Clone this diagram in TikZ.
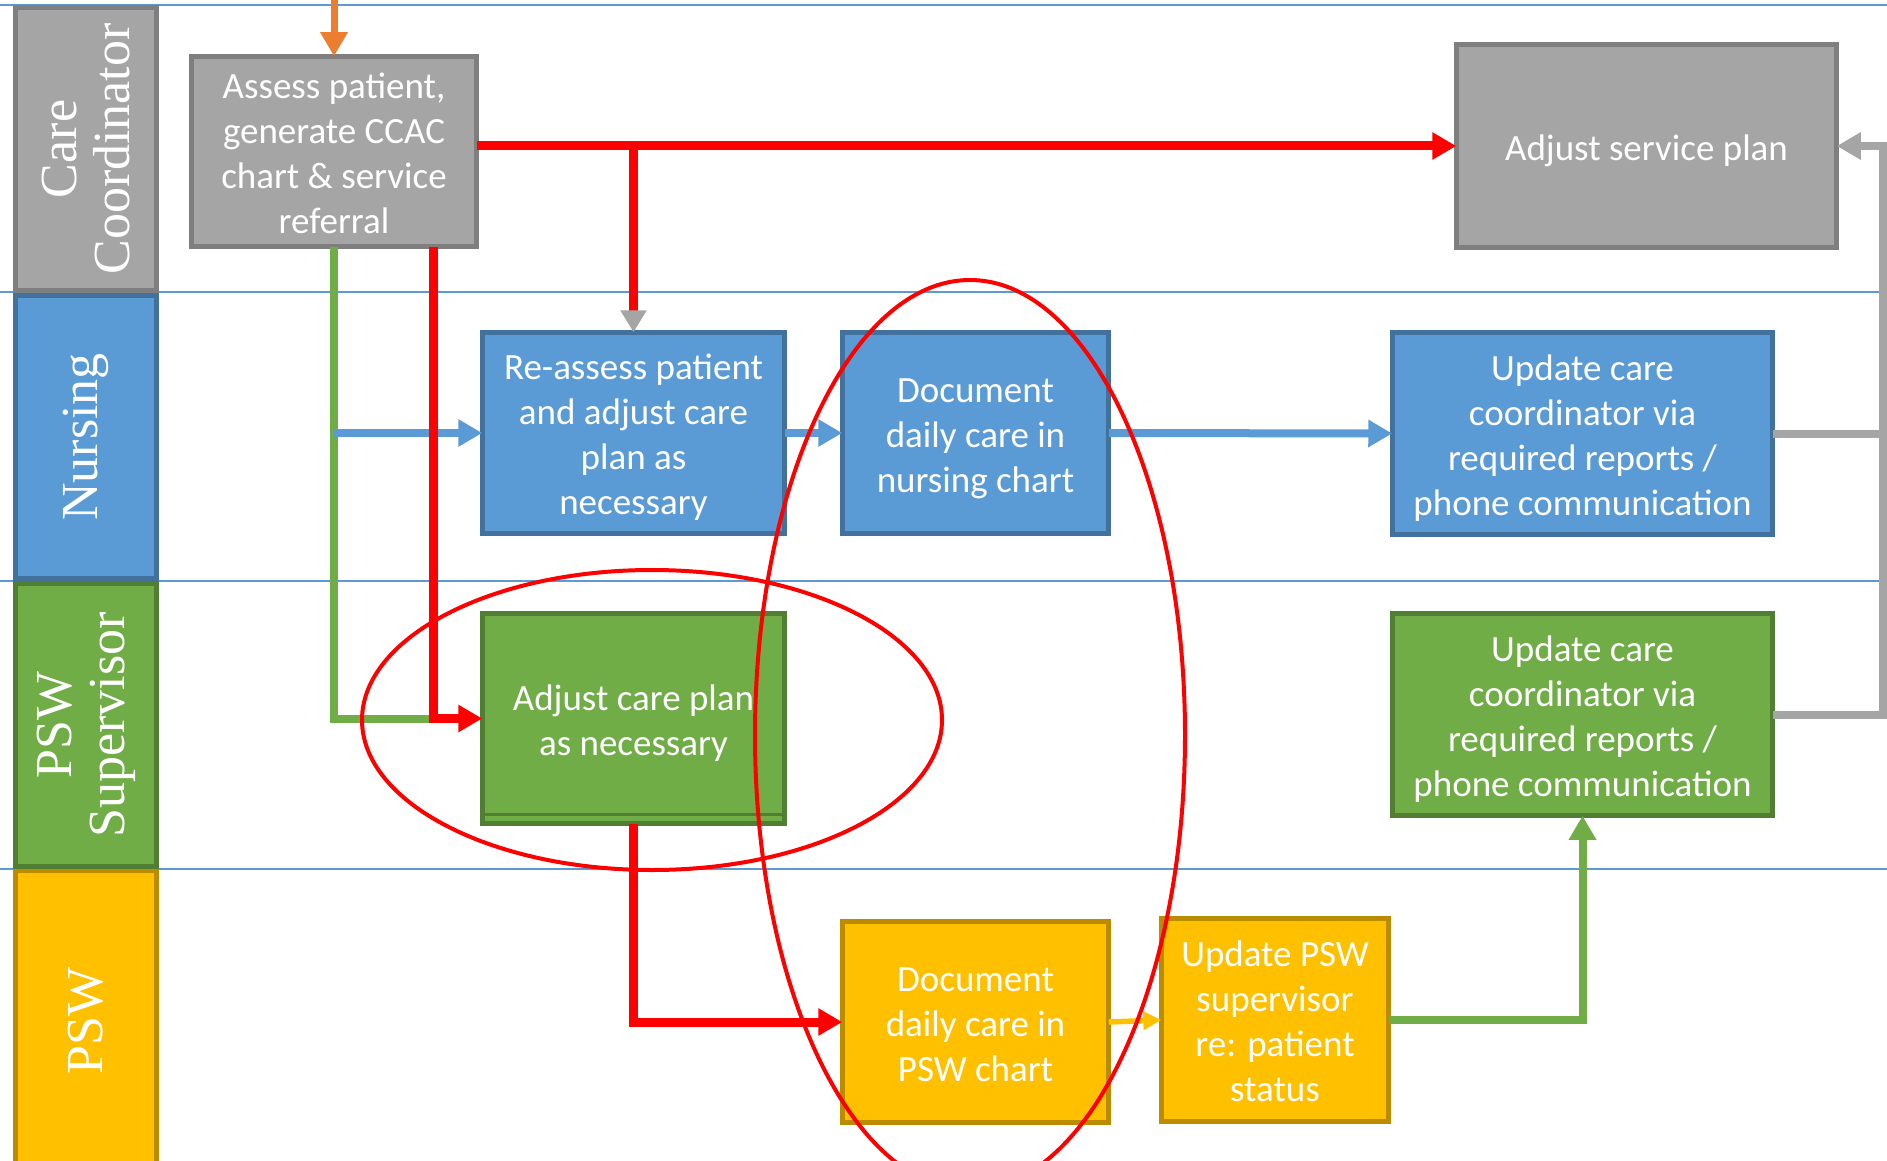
\documentclass[tikz,border=0pt]{standalone}
\usepackage{fontspec}
\setmainfont{Carlito}
\newfontfamily\lanefont{Liberation Serif}
\usetikzlibrary{arrows.meta,calc}
\definecolor{grayfill}{HTML}{A5A5A5}
\definecolor{grayline}{HTML}{7F7F7F}
\definecolor{bluefill}{HTML}{5B9BD5}
\definecolor{blueline}{HTML}{41719C}
\definecolor{greenfill}{HTML}{70AD47}
\definecolor{greenline}{HTML}{507E32}
\definecolor{yellowfill}{HTML}{FFC000}
\definecolor{yellowline}{HTML}{BC8C00}
\definecolor{redc}{HTML}{FF0000}
\definecolor{orangec}{HTML}{ED7D31}
\definecolor{connectgray}{HTML}{A5A5A5}
\definecolor{lanelinec}{HTML}{5B9BD5}
\newcommand\ts{\rule{0pt}{38.4pt}}
\newcommand\bs{\rule[-10pt]{0pt}{10pt}}
\begin{document}
\begin{tikzpicture}[x=1pt,y=-1pt,
  box/.style={draw, line width=4.8pt, inner sep=0pt, outer sep=0pt, align=center,
    text=white, font=\fontsize{37}{45}\selectfont},
  graybox/.style={box, fill=grayfill, draw=grayline},
  bluebox/.style={box, fill=bluefill, draw=blueline},
  greenbox/.style={box, fill=greenfill, draw=greenline},
  yellowbox/.style={box, fill=yellowfill, draw=yellowline},
  lanehead/.style={draw, line width=4.8pt, inner sep=0pt, outer sep=0pt, align=center,
    text=white, rotate=90, minimum width=283.5pt, minimum height=141.5pt,
    font=\lanefont\fontsize{52}{53}\selectfont},
  laneline/.style={lanelinec, line width=1.5pt},
  arr/.style={-{Triangle[length=24pt,width=26pt]}},
  arrsmall/.style={-{Triangle[length=18pt,width=18pt]}},
  redconn/.style={redc, line width=9pt},
  greenconn/.style={greenfill, line width=8pt},
  blueconn/.style={bluefill, line width=8pt},
  grayconn/.style={connectgray, line width=8pt},
  orangeconn/.style={orangec, line width=7pt},
  yellowconn/.style={yellowfill, line width=5.5pt},
  ring/.style={redc, line width=4pt},
]
\useasboundingbox (0,0) rectangle (1887,1161);
\clip (0,0) rectangle (1887,1161);

% lane lines
\draw[laneline] (0,5) -- (1887,5);
\draw[laneline] (0,292) -- (1887,292);
\draw[laneline] (0,581) -- (1887,581);
\draw[laneline] (0,869) -- (1887,869);

% lane headers
\node[lanehead, fill=grayfill, draw=grayline] (hcare) at (86,149) {Care\\Coordinator};
\node[lanehead, fill=bluefill, draw=blueline] (hnurs) at (86,437) {Nursing};
\node[lanehead, fill=greenfill, draw=greenline] (hsup) at (86,725) {PSW\\Supervisor};
\node[lanehead, fill=yellowfill, draw=yellowline, minimum width=300pt] (hpsw) at (86,1021) {PSW};

% process boxes
\node[graybox, minimum width=285.5pt, minimum height=190.5pt] (assess) at (334,151.5)
  {\ts Assess patient,\\generate CCAC\\chart \& service\\referral\bs};
\node[graybox, minimum width=380.5pt, minimum height=203.5pt] (asp) at (1646.5,146)
  {\ts Adjust service plan\bs};
\node[bluebox, minimum width=302.5pt, minimum height=201.5pt] (reassess) at (633.5,433)
  {\ts Re-assess patient\\and adjust care\\plan as\\necessary\bs};
\node[bluebox, minimum width=266.5pt, minimum height=201.5pt] (dnc) at (975.5,433)
  {\ts Document\\daily care in\\nursing chart\bs};
\node[bluebox, minimum width=380.5pt, minimum height=202.5pt] (ucn) at (1582.5,433.5)
  {\ts Update care\\coordinator via\\required reports /\\phone communication\bs};
\node[greenbox, minimum width=302.5pt, minimum height=210.5pt] (acp) at (633.5,718.5)
  {\ts Adjust care plan\\as necessary\bs};
\draw[greenline, line width=3pt] ($(acp.south west)+(0,-9)$) -- ($(acp.south east)+(0,-9)$);
\node[greenbox, minimum width=380.5pt, minimum height=202.5pt] (ucp) at (1582.5,714.5)
  {\ts Update care\\coordinator via\\required reports /\\phone communication\bs};
\node[yellowbox, minimum width=266.5pt, minimum height=201.5pt] (dpsw) at (975.5,1022)
  {\ts Document\\daily care in\\PSW chart\bs};
\node[yellowbox, minimum width=227.5pt, minimum height=203.5pt] (upsw) at (1275,1020)
  {\ts Update PSW\\supervisor\\re: patient\\status\bs};

% helper coordinates
\coordinate (otop) at (334,-5);
\coordinate (ra) at ($(assess.south east)+(-43,0)$);
\coordinate (gx) at (1883,0);

% connectors
\draw[orangeconn, arr] (otop) -- (assess.north);
\draw[greenconn] (assess.south) |- (ra |- acp.west);
\draw[blueconn, arr] (assess.south |- reassess.west) -- (reassess.west);
\draw[redconn, arr] (ra) |- (acp.west);
\draw[redconn, arr] (assess.east |- asp.west) -- (asp.west);
\draw[redconn, -{Triangle[length=22pt,width=25pt,color=connectgray]}] (reassess.north |- asp.west) -- (reassess.north);
\draw[blueconn, arr] (reassess.east) -- (dnc.west);
\draw[blueconn, arr] (dnc.east) -- (ucn.west);
\draw[grayconn] (ucn.east) -- (gx |- ucn.east);
\draw[grayconn, arr] (ucp.east) -| (gx |- asp.east) -- (asp.east);
\draw[redconn, arr] (acp.south) |- (dpsw.west);
\draw[yellowconn, arrsmall] (dpsw.east) -- (upsw.west);
\draw[greenconn, arr] (upsw.east) -| (ucp.south);

% highlight rings
\draw[ring] (652,720) ellipse [x radius=290pt, y radius=150pt];
\draw[ring] (970,735) ellipse [x radius=215pt, y radius=455pt];
\end{tikzpicture}
\end{document}
